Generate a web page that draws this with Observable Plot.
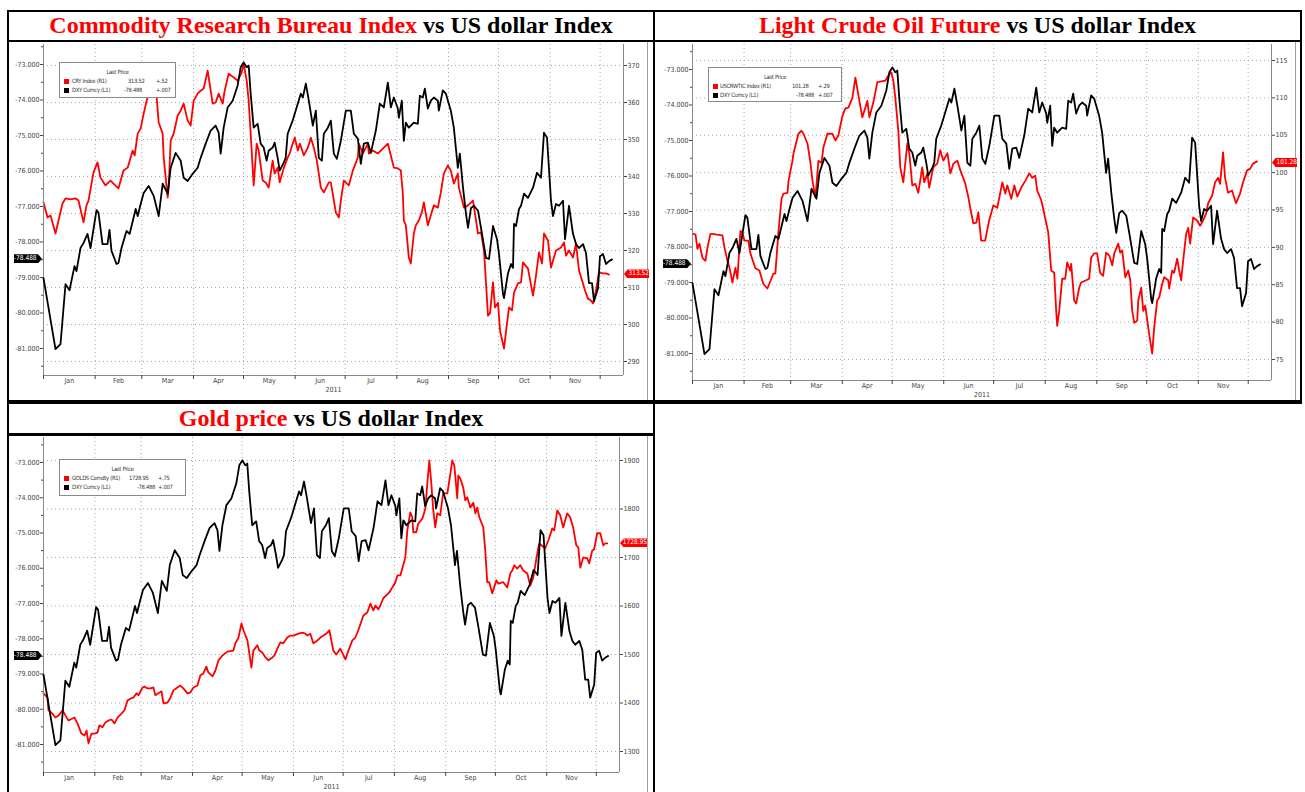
<!DOCTYPE html>
<html>
<head>
<meta charset="utf-8">
<script src="https://cdn.jsdelivr.net/npm/d3@7"></script>
<script src="https://cdn.jsdelivr.net/npm/@observablehq/plot@0.6"></script>
<style>
html,body{margin:0;padding:0;background:#fff;}
body{position:relative;width:1305px;height:792px;overflow:hidden;}
.bar{position:absolute;background:#000;}
.title{position:absolute;font-family:"Liberation Serif","Times New Roman",serif;font-weight:bold;font-size:24px;line-height:24px;text-align:center;white-space:nowrap;color:#000;}
.title .r{color:#ff0000;}
.chart{position:absolute;}
.chart svg{position:absolute;left:0;top:0;}
.legend{position:absolute;border:1px solid #8a8a8a;background:#fff;font-family:"DejaVu Sans Condensed","DejaVu Sans",sans-serif;font-size:5.8px;letter-spacing:-0.3px;color:#333;box-sizing:border-box;}
.legend span{position:absolute;white-space:nowrap;line-height:8px;}
.legend .sw{width:5px;height:5px;}
.tag{position:absolute;height:9px;line-height:9px;font-family:"DejaVu Sans Condensed","DejaVu Sans",sans-serif;font-size:6.5px;color:#fff;text-align:center;}
.edge{position:absolute;background:#a0a0a0;width:1px;}
</style>
</head>
<body>
<div class="bar" style="left:7px;top:10px;width:1295px;height:2px"></div>
<div class="bar" style="left:7px;top:40px;width:1295px;height:2px"></div>
<div class="bar" style="left:7px;top:400px;width:1295px;height:4px"></div>
<div class="bar" style="left:7px;top:433px;width:648px;height:3px"></div>
<div class="bar" style="left:7px;top:10px;width:2px;height:782px"></div>
<div class="bar" style="left:653px;top:10px;width:2px;height:782px"></div>
<div class="bar" style="left:1300px;top:10px;width:2px;height:394px"></div>
<div class="title" style="left:9px;top:13px;width:644px"><span class="r">Commodity Research Bureau Index</span> vs US dollar Index</div>
<div class="title" style="left:655px;top:13px;width:645px"><span class="r">Light Crude Oil Future</span> vs US dollar Index</div>
<div class="title" style="left:9px;top:406px;width:644px"><span class="r">Gold price</span> vs US dollar Index</div>
<div class="edge" style="left:647px;top:42px;height:358px"></div>
<div class="edge" style="left:1295px;top:42px;height:358px"></div>
<div class="edge" style="left:647px;top:436px;height:356px"></div>
<script>
// ---------------- DATA (day offset from 2011-01-01, value) ----------------
const dxySeries = [[0,-79.02],[7.2,-81.02],[10.2,-80.88],[13.2,-79.19],[15.6,-79.36],[18.6,-78.68],[19.8,-78.82],[22.2,-78.17],[24,-78.03],[26.4,-77.77],[28.2,-78.17],[31.8,-77.10],[33,-77.18],[35.4,-78.06],[38.4,-78.06],[39.6,-77.66],[40.8,-78.25],[43.8,-78.62],[45,-78.59],[46.8,-78.17],[49.8,-77.69],[51.7,-77.77],[55.3,-77.07],[56.5,-77.27],[58.3,-76.93],[60.1,-76.62],[63.1,-76.42],[66.1,-76.70],[69.1,-77.27],[71.5,-76.36],[74.5,-76.64],[76.3,-75.91],[79.3,-75.49],[82.3,-75.71],[84.1,-76.19],[86.5,-76.28],[89.5,-76.08],[92.5,-75.91],[94.3,-75.63],[97.3,-75.23],[100.3,-74.86],[103.3,-74.72],[105.1,-74.92],[106.3,-75.51],[108.1,-74.78],[110.5,-74.21],[113.5,-74.02],[116.5,-73.59],[118.3,-73.08],[120.1,-72.94],[121.9,-73.08],[123.1,-73.03],[124.3,-73.82],[126.1,-74.78],[128.5,-74.67],[130.3,-75.23],[132.1,-75.34],[133.9,-75.71],[135.1,-75.43],[137.5,-75.34],[138.7,-75.20],[140.5,-75.63],[141.7,-75.99],[144.1,-75.77],[145.3,-75.63],[146.5,-74.95],[149.5,-74.58],[150.8,-74.38],[152.6,-74.10],[154.4,-73.82],[155.6,-73.93],[157.4,-73.54],[159.2,-74.02],[161.6,-74.72],[163.4,-74.30],[165.2,-75.63],[167,-75.71],[168.2,-74.95],[170.6,-74.78],[172.4,-74.58],[174.2,-75.51],[176,-75.66],[178.4,-75.15],[181.4,-74.30],[184.4,-74.30],[186.2,-74.95],[188.6,-75.09],[190.4,-75.80],[192.2,-75.23],[194.6,-75.20],[196.4,-75.49],[199.4,-74.86],[201.8,-74.10],[204.2,-74.21],[206.6,-73.51],[208.4,-74.21],[210.2,-73.93],[212.6,-74.24],[213.2,-74.50],[215,-74.02],[216.2,-75.15],[217.4,-74.64],[219.2,-74.78],[222.2,-74.64],[224.6,-74.67],[225.8,-73.88],[227.6,-73.93],[228.8,-73.68],[230.6,-74.24],[232.4,-74.02],[234.2,-73.93],[236.6,-74.02],[237.2,-74.30],[239.6,-73.73],[241.4,-73.82],[244.4,-74.30],[246.2,-74.78],[248.6,-75.91],[249.8,-75.51],[251.7,-76.47],[253.5,-77.21],[254.7,-77.60],[256.5,-77.04],[258.3,-76.98],[260.7,-77.12],[262.5,-77.60],[265.5,-78.45],[267.3,-78.48],[269.7,-77.55],[272.1,-77.92],[273.3,-78.34],[275.7,-79.47],[276.3,-79.58],[278.7,-78.88],[280.5,-78.62],[281.7,-78.73],[282.3,-77.49],[283.5,-77.55],[285.3,-77.07],[286.5,-76.98],[288.3,-76.64],[290.7,-76.76],[293.7,-76.47],[296.1,-76.05],[298.5,-76.19],[300.3,-74.92],[302.1,-75.06],[304.5,-76.84],[305.7,-77.27],[307.5,-76.93],[309.3,-76.98],[311.7,-76.84],[312.9,-77.92],[315.3,-76.98],[317.7,-77.77],[319.5,-78.06],[321.3,-78.17],[323.7,-78.06],[325.5,-78.31],[327.3,-79.16],[329.1,-79.16],[330.3,-79.67],[332.7,-79.30],[333.9,-78.40],[335.7,-78.34],[337.5,-78.62],[339.3,-78.54],[341.1,-78.49]];

const crySeries = [[0,333.0],[2.4,328.9],[4.2,329.5],[7.2,324.6],[9,328.1],[11.4,332.7],[13.2,334.1],[16.2,333.8],[19.2,334.1],[21,333.5],[24,327.6],[25.8,332.2],[27,333.5],[30,341.1],[32.4,343.8],[34.2,339.7],[37.2,337.6],[40.2,338.9],[42,338.1],[45,336.8],[48,341.6],[50.5,342.4],[53.5,347.0],[54.7,345.7],[56.5,351.6],[58.3,353.0],[60.1,357.0],[61.9,360.5],[64.3,364.1],[66.1,363.2],[67.9,361.4],[69.1,354.6],[71.5,351.6],[72.1,345.1],[73.3,339.7],[74.5,334.3],[75.1,337.0],[76.3,349.7],[78.1,351.6],[80.5,356.5],[82.3,357.8],[84.1,359.7],[86.5,355.1],[88.3,353.8],[90.1,360.5],[92.5,362.4],[94.3,363.2],[96.1,363.8],[98.5,368.6],[101.5,359.7],[103.3,360.0],[105.1,362.4],[107.5,359.7],[108.7,363.2],[111.1,367.8],[114.1,366.8],[116.5,365.9],[118.9,368.1],[120.1,370.5],[121.9,365.9],[123.1,360.5],[124.9,347.0],[126.1,337.6],[127.9,348.9],[129.1,347.0],[131.5,338.9],[133.3,338.4],[135.1,337.0],[137.5,344.3],[138.7,340.8],[140.5,342.4],[141.7,338.4],[144.1,342.2],[146.5,345.1],[147.7,346.2],[149.5,348.9],[150.8,350.5],[152.6,347.0],[153.8,348.9],[156.2,345.7],[158.6,347.8],[160.4,350.5],[162.2,347.8],[164,344.3],[166.4,337.0],[168.2,335.7],[171.2,338.4],[172.4,338.4],[175.4,330.3],[177.2,328.9],[178.4,333.5],[180.2,338.9],[183.2,337.6],[185.6,341.6],[188.6,345.1],[189.2,348.9],[191.6,346.2],[194.6,348.9],[195.2,346.2],[197.6,347.0],[200.6,346.2],[202.4,347.0],[206.6,348.9],[208.4,345.7],[210.2,342.4],[212.6,342.2],[214.4,341.6],[215.6,335.4],[216.2,328.1],[217.4,326.8],[219.2,318.1],[220.4,316.5],[222.2,324.6],[223.4,326.8],[225.2,328.1],[227,330.3],[228.2,333.0],[230.6,326.8],[232.4,329.5],[234.2,332.2],[236.6,331.6],[238.4,335.7],[240.2,340.8],[242.6,343.0],[244.4,341.6],[246.2,338.1],[248.6,340.8],[249.2,337.0],[252.3,331.6],[254.7,332.2],[257.7,333.5],[260.7,324.6],[262.5,324.9],[264.3,320.0],[266.7,302.4],[267.9,303.0],[269.7,311.4],[270.9,304.6],[272.7,305.9],[273.9,298.4],[276.3,293.5],[278.1,300.3],[279.3,304.6],[281.1,303.8],[282.3,308.6],[284.7,311.1],[286.5,311.4],[287.7,316.8],[290.7,315.1],[293.7,307.8],[295.5,313.2],[297.3,319.5],[299.1,316.5],[300.3,324.6],[302.7,322.7],[304.5,315.4],[307.5,320.0],[310.5,320.8],[312.3,322.2],[313.5,318.6],[315.3,320.0],[317.7,318.1],[319.5,321.9],[321.3,314.6],[323.7,311.1],[324.9,309.2],[326.7,307.0],[328.5,306.5],[329.7,305.7],[331.5,309.2],[333.3,314.1],[335.7,313.8],[337.5,313.8],[339.3,313.5]];

const oilSeries = [[0.6,91.8],[1.8,91.7],[3,89.8],[4.2,90.5],[6,88.6],[7.8,88.2],[9,90.0],[10.8,91.8],[12.6,91.8],[14.4,91.7],[18,91.6],[19.2,90.0],[21,88.2],[22.2,87.3],[24,85.3],[25.8,87.3],[27,85.8],[28.8,92.2],[30,92.0],[31.2,90.9],[33.6,90.9],[34.8,89.2],[37.8,87.2],[40.2,86.9],[42.6,85.1],[45,84.5],[47.4,85.8],[48.6,86.5],[49.8,86.5],[51.7,92.2],[53.5,96.5],[54.7,97.2],[57.1,97.3],[57.7,98.9],[60.1,101.6],[60.7,102.6],[63.7,105.2],[65.5,105.6],[66.7,105.2],[69.1,103.9],[70.9,101.3],[72.1,98.9],[73.9,96.7],[75.7,101.6],[77.5,101.3],[78.7,103.4],[81.1,105.2],[84.1,105.2],[85.9,104.3],[87.7,105.0],[90.1,107.6],[91.9,108.6],[93.7,108.7],[96.1,110.0],[97.9,112.7],[100.3,109.6],[102.1,107.4],[103.9,108.7],[105.1,109.6],[106.3,107.4],[108.7,109.4],[111.1,112.1],[115.9,112.3],[117.7,113.0],[119.5,113.4],[120.7,112.3],[121.9,110.0],[123.7,105.6],[124.9,100.7],[126.7,98.7],[129.1,103.9],[130.3,102.6],[132.1,98.3],[133.9,98.5],[135.7,97.3],[138.1,100.7],[139.3,98.7],[141.1,99.9],[142.3,98.0],[144.7,100.7],[147.1,101.2],[148.9,103.0],[150.8,101.6],[153.2,102.6],[155,99.9],[156.8,101.2],[159.2,101.6],[161,100.3],[164,98.5],[165.8,96.7],[167,95.2],[168.8,93.2],[170.6,93.3],[171.8,94.7],[173.5,90.9],[175.9,90.9],[178.3,93.6],[180.8,95.6],[183.2,95.3],[186.2,98.7],[188,97.2],[189.2,98.3],[191.6,96.5],[193.4,98.3],[195.2,96.8],[197.6,98.0],[200,98.9],[202.4,99.9],[204.2,99.3],[206,99.6],[207.2,97.6],[209.6,96.3],[211.4,94.5],[213.8,92.0],[215.6,86.9],[217.4,86.6],[218.6,81.5],[219.2,79.5],[220.4,81.5],[222.2,85.8],[224,85.8],[225.2,88.0],[227,86.9],[227.6,87.8],[229.4,82.9],[230.6,82.5],[232.4,84.6],[233.6,85.3],[236.6,85.6],[238.4,85.8],[239.6,88.6],[241.4,89.2],[243.2,89.2],[245,86.6],[246.8,86.2],[248.6,89.3],[250.5,88.9],[252.3,87.6],[253.5,89.2],[255.9,90.5],[257.1,89.3],[258.3,89.6],[260.1,86.0],[261.9,86.9],[263.1,85.6],[264.3,81.5],[265.5,79.9],[267.3,80.2],[267.9,82.9],[269.7,84.6],[270.9,81.5],[272.1,82.2],[273.9,79.3],[275.1,77.5],[276.3,75.8],[277.5,79.3],[279.3,82.9],[280.5,83.3],[282.3,85.1],[283.5,86.0],[285.9,85.6],[286.5,84.5],[288.3,86.9],[289.5,86.6],[291.3,88.5],[292.5,86.9],[293.7,85.6],[294.9,88.2],[296.7,91.8],[297.9,92.6],[299.1,90.5],[300.9,94.0],[303.3,93.6],[305.1,92.9],[306.9,93.6],[308.7,94.5],[309.9,95.9],[312.3,96.9],[314.1,98.7],[315.9,99.3],[317.1,98.5],[318.9,102.7],[320.1,99.3],[321.9,97.3],[324.3,97.6],[326.1,96.3],[326.7,95.9],[329.1,97.2],[330.9,98.7],[333.3,100.3],[335.1,100.5],[336.9,101.2],[339.3,101.5]];

const goldSeries = [[0,1420],[2.4,1411],[3,1385],[5.4,1378],[7.2,1370],[9.1,1374],[11.5,1385],[13.3,1374],[15.1,1364],[17.5,1368],[18.7,1370],[20.5,1358],[22.9,1337],[24.8,1333],[26,1343],[27.2,1317],[29,1337],[30.8,1337],[32.6,1339],[33.8,1354],[35.6,1350],[37.4,1360],[39.3,1364],[41.1,1366],[42.9,1358],[44.7,1370],[47.1,1378],[48.9,1385],[50.7,1405],[52.5,1409],[54.3,1411],[56.2,1420],[57.4,1416],[59.8,1432],[61,1434],[62.8,1430],[64.6,1430],[66.4,1432],[67.6,1416],[69.4,1420],[71.3,1424],[72.5,1399],[74.9,1401],[76.7,1411],[78.5,1426],[80.9,1432],[82.7,1436],[84.5,1430],[87,1420],[88.8,1422],[90.6,1432],[93,1436],[94.8,1457],[96.6,1461],[98.4,1475],[99.6,1463],[102.1,1455],[103.9,1467],[105.7,1488],[108.1,1498],[111.1,1506],[114.7,1508],[115.9,1523],[117.8,1535],[119.6,1564],[120.8,1550],[123.2,1529],[125.6,1473],[126.8,1508],[129.2,1519],[130.4,1508],[132.2,1504],[134.1,1494],[135.9,1488],[138.3,1494],[139.5,1498],[141.3,1512],[143.1,1525],[144.9,1523],[147.3,1535],[149.2,1539],[151,1539],[154,1543],[156.4,1545],[158.2,1543],[159.4,1539],[161.2,1543],[163,1523],[165.5,1529],[167.3,1535],[169.1,1539],[171.5,1545],[172.7,1550],[175.1,1508],[176.9,1500],[179.3,1512],[182.4,1490],[184.2,1508],[186.6,1529],[188.4,1535],[190.2,1550],[193.2,1580],[195.7,1587],[197.5,1605],[199.3,1591],[200.5,1601],[202.3,1593],[203.5,1601],[205.3,1616],[208.9,1628],[212.6,1649],[213.8,1663],[215.6,1663],[218.6,1700],[219.8,1756],[221.6,1793],[222.8,1783],[223.4,1752],[225.2,1752],[226.4,1770],[228.9,1780],[230.7,1801],[231.9,1853],[233.1,1900],[234.3,1853],[235.5,1797],[236.7,1762],[237.9,1791],[239.7,1787],[241.5,1834],[242.8,1832],[244,1832],[245.2,1859],[247,1900],[248.2,1890],[250,1822],[250.6,1869],[251.8,1863],[253.6,1844],[254.8,1818],[256,1824],[257.9,1803],[259.7,1813],[260.9,1791],[262.1,1803],[263.3,1783],[265.7,1762],[266.9,1714],[268.1,1649],[269.3,1649],[271.1,1626],[273.6,1653],[274.8,1646],[277.8,1649],[280.2,1638],[282,1667],[283.2,1673],[284.4,1684],[286.2,1677],[288,1684],[289.9,1673],[292.3,1667],[294.1,1642],[295.9,1659],[298.3,1708],[299.5,1729],[303.1,1719],[305,1735],[307.4,1760],[308.6,1756],[310.4,1797],[312.2,1787],[314,1762],[316.4,1791],[318.2,1783],[320,1762],[321.9,1725],[323.1,1721],[324.3,1679],[326.1,1700],[328.5,1698],[329.7,1688],[331.5,1714],[332.7,1717],[334.5,1750],[336.4,1750],[338.2,1725],[339.4,1729],[340.6,1729]];

const leftTicks = [-73,-74,-75,-76,-77,-78,-79,-80,-81];
const leftMinorTicks = [-72.5,-73.5,-74.5,-75.5,-76.5,-77.5,-78.5,-79.5,-80.5,-81.5];
const cryTicks = [370,360,350,340,330,320,310,300,290];
const oilTicks = [115,110,105,100,95,90,85,80,75];
const goldTicks = [1900,1800,1700,1600,1500,1400,1300];
const monthNames = ["Jan","Feb","Mar","Apr","May","Jun","Jul","Aug","Sep","Oct","Nov"];
const yearText = "2011";
const dxyLast = {label:"-78.488", value:-78.488};

// ---------------- HELPERS ----------------
const FONT = '"DejaVu Sans Condensed","DejaVu Sans",sans-serif';
const YEAR_START = Date.UTC(2011,0,1);
const dayToDate = d => new Date(YEAR_START + d*86400000);
const xDomain = [dayToDate(0), dayToDate(348)];
const monthStarts = d3.utcMonth.range(dayToDate(0), dayToDate(335));
const monthMids = monthNames.map((m,i) => new Date((+monthStarts[i] + +monthStarts[i+1]) / 2));
const toRows = s => s.map(([d,v]) => ({date: dayToDate(d), value: v}));

const panels = [
  {left:8, top:42, width:642, height:358, ml:35, mr:27, mt:2, mb:25,
   leftDomain:[-81.761,-72.437], rightDomain:[286.22,375.68], rightTicks:cryTicks, series:crySeries,
   last:{label:"313.52", value:313.52}, tagW:25,
   legend:{x:59, y:62, w:117, h:36, nameX:12, chgX:96,
     rows:[{c:"#ff0000", name:"CRY Index  (R1)", val:"313.52", valX:68, chg:"+.52"},
           {c:"#000", name:"DXY Curncy  (L1)", val:"-78.488", valX:64, chg:"+.007"}]}},
  {left:657, top:42, width:642, height:358, ml:35, mr:28, mt:2, mb:20,
   leftDomain:[-81.761,-72.296], rightDomain:[72.19,117.14], rightTicks:oilTicks, series:oilSeries,
   last:{label:"101.28", value:101.28}, tagW:25,
   legend:{x:708, y:67, w:134, h:35, nameX:11, chgX:109,
     rows:[{c:"#ff0000", name:"USCRWTIC Index  (R1)", val:"101.28", valX:83, chg:"+.29"},
           {c:"#000", name:"DXY Curncy  (L1)", val:"-78.488", valX:87, chg:"+.007"}]}},
  {left:8, top:436, width:642, height:356, ml:35, mr:31, mt:1, mb:20,
   leftDomain:[-81.794,-72.291], rightDomain:[1256.7,1947.4], rightTicks:goldTicks, series:goldSeries,
   last:{label:"1728.95", value:1728.95}, tagW:27,
   legend:{x:59, y:459, w:127, h:37, nameX:12, chgX:98,
     rows:[{c:"#ff0000", name:"GOLDS Comdty  (R1)", val:"1728.95", valX:69, chg:"+.75"},
           {c:"#000", name:"DXY Curncy  (L1)", val:"-78.488", valX:77, chg:"+.007"}]}}
];

function drawPanel(p) {
  const holder = document.createElement("div");
  holder.className = "chart";
  Object.assign(holder.style, {left:p.left+"px", top:p.top+"px", width:p.width+"px", height:p.height+"px"});
  document.body.appendChild(holder);
  const common = {
    width:p.width, height:p.height, marginLeft:p.ml, marginRight:p.mr, marginTop:p.mt, marginBottom:p.mb,
    style:{background:"transparent", overflow:"visible", fontFamily:FONT, fontSize:"7px", color:"#444"}
  };
  const right = Plot.plot({
    ...common,
    x:{type:"utc", domain:xDomain, axis:null},
    y:{domain:p.rightDomain},
    marks:[
      Plot.gridY(p.rightTicks, {stroke:"#a0a0a0", strokeOpacity:0.9, strokeDasharray:"1,3"}),
      Plot.ruleX(monthStarts.slice(1), {stroke:"#a0a0a0", strokeOpacity:0.9, strokeDasharray:"1,3"}),
      Plot.ruleX([xDomain[1]], {stroke:"#8a8a8a"}),
      Plot.axisY(p.rightTicks, {anchor:"right", tickSize:3, tickPadding:1, tickFormat:d => String(d), label:null}),
      Plot.line(toRows(p.series), {x:"date", y:"value", stroke:"#ff0000", strokeWidth:1.8})
    ]
  });
  const left = Plot.plot({
    ...common,
    x:{type:"utc", domain:xDomain},
    y:{domain:p.leftDomain},
    marks:[
      Plot.ruleX([xDomain[0]], {stroke:"#8a8a8a"}),
      Plot.ruleY([p.leftDomain[0]], {stroke:"#8a8a8a"}),
      Plot.axisY(leftMinorTicks.filter(v => v > p.leftDomain[0] && v < p.leftDomain[1]), {anchor:"left", tickSize:2, tickFormat:() => "", label:null}),
      Plot.axisY(leftTicks, {anchor:"left", tickSize:3, tickPadding:1, tickFormat:d => d.toFixed(3), label:null}),
      Plot.axisX(monthStarts, {anchor:"bottom", tickSize:4, tickFormat:() => "", label:null}),
      Plot.axisX(monthMids, {anchor:"bottom", tickSize:0, tickPadding:3, tickFormat:d3.utcFormat("%b"), label:null}),
      Plot.text([yearText], {x:() => dayToDate(174), frameAnchor:"bottom", dy:16, fill:"#444"}),
      Plot.line(toRows(dxySeries), {x:"date", y:"value", stroke:"#000", strokeWidth:1.8})
    ]
  });
  holder.appendChild(right);
  holder.appendChild(left);

  // last-value tags positioned with the plots' own scales
  const yl = left.scale("y").apply(dxyLast.value);
  const lt = document.createElement("div");
  lt.className = "tag";
  lt.textContent = dxyLast.label;
  Object.assign(lt.style, {left:(p.left + p.ml - 29)+"px", top:(p.top + yl - 4.5)+"px", width:"28px",
    background:"#000", clipPath:"polygon(0 0,86% 0,100% 50%,86% 100%,0 100%)", textAlign:"left"});
  document.body.appendChild(lt);
  const yr = right.scale("y").apply(p.last.value);
  const rt = document.createElement("div");
  rt.className = "tag";
  rt.textContent = p.last.label;
  Object.assign(rt.style, {left:(p.left + p.width - p.mr + 1)+"px", top:(p.top + yr - 4.5)+"px", width:p.tagW+"px",
    background:"#ff0000", clipPath:"polygon(0 50%,14% 0,100% 0,100% 100%,14% 100%)", textAlign:"right"});
  document.body.appendChild(rt);

  // legend box
  const L = p.legend;
  const box = document.createElement("div");
  box.className = "legend";
  Object.assign(box.style, {left:L.x+"px", top:L.y+"px", width:L.w+"px", height:L.h+"px"});
  const head = document.createElement("span");
  head.textContent = "Last Price";
  Object.assign(head.style, {left:"0", width:"100%", textAlign:"center", top:"5px"});
  box.appendChild(head);
  L.rows.forEach((r, i) => {
    const top = 14 + i*9;
    const sw = document.createElement("span");
    sw.className = "sw";
    Object.assign(sw.style, {left:"4px", top:(top+1.5)+"px", background:r.c});
    box.appendChild(sw);
    const nm = document.createElement("span");
    nm.textContent = r.name;
    Object.assign(nm.style, {left:L.nameX+"px", top:top+"px"});
    box.appendChild(nm);
    const vl = document.createElement("span");
    vl.textContent = r.val;
    Object.assign(vl.style, {left:r.valX+"px", top:top+"px"});
    box.appendChild(vl);
    const ch = document.createElement("span");
    ch.textContent = r.chg;
    Object.assign(ch.style, {left:L.chgX+"px", top:top+"px"});
    box.appendChild(ch);
  });
  document.body.appendChild(box);
}
panels.forEach(drawPanel);
</script>
</body>
</html>
